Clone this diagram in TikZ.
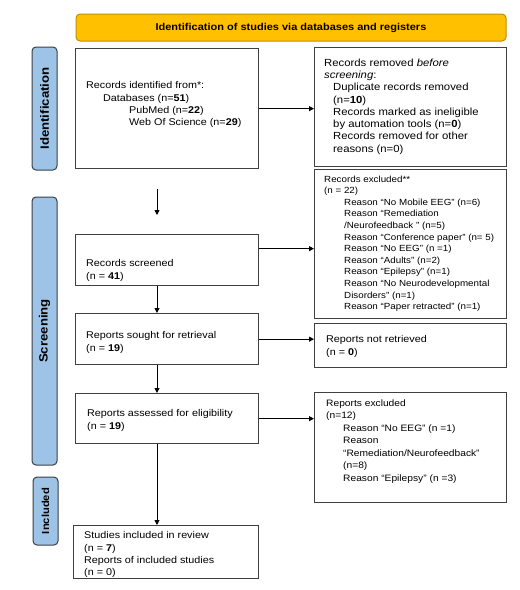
\documentclass[tikz,border=0pt]{standalone}
\usepackage{fontspec}
\setmainfont{Liberation Sans}[FakeStretch=1.1]
\usetikzlibrary{arrows.meta}
\definecolor{bannerfill}{HTML}{FFC000}
\definecolor{bannerdraw}{HTML}{BF9000}
\definecolor{sidefill}{HTML}{9DC3E6}
\definecolor{sidedraw}{HTML}{3A3F45}
\definecolor{boxdraw}{HTML}{404040}
\newcommand{\ind}[1]{\hspace*{#1pt}}
\begin{document}
\begin{tikzpicture}[x=1pt,y=-1pt,
  box/.style={draw=boxdraw, line width=1.3pt, anchor=north west, inner sep=0pt, fill=white},
  txt/.style={anchor=north west, inner sep=0pt, align=left, font=\fontsize{9.8}{12.3}\selectfont},
  txtsmall/.style={anchor=north west, inner sep=0pt, align=left, font=\fontsize{8.9}{11.6}\selectfont},
  side/.style={draw=sidedraw, line width=1pt, fill=sidefill, rounded corners=4pt, inner sep=0pt, font=\fontsize{12}{13}\selectfont\bfseries, rotate=90},
  banner/.style={draw=bannerdraw, line width=1pt, fill=bannerfill, rounded corners=4pt, inner sep=0pt, font=\fontsize{10}{11}\selectfont\bfseries},
  arr/.style={-{Triangle[length=5pt,width=5pt]}, line width=0.9pt, draw=black}]
\useasboundingbox (0,0) rectangle (520,590);
% banner
\node[banner, minimum width=430pt, minimum height=27pt] (ban) at (291,27.5) {Identification of studies via databases and registers};
% side labels
\node[side, minimum width=123pt, minimum height=25pt] (sid) at (44.5,108.5) {Identification};
\node[side, minimum width=268pt, minimum height=25pt] (sscr) at (44.5,331) {Screening};
\node[side, minimum width=68pt, minimum height=25pt, font=\fontsize{10.2}{11}\selectfont\bfseries] (sinc) at (45.5,511) {Included};
% boxes
\node[box, minimum width=183pt, minimum height=120pt] (ident) at (75,48) {};
\node[box, minimum width=192pt, minimum height=119pt] (rem) at (314,47) {};
\node[box, minimum width=192pt, minimum height=149pt] (excl) at (314,169) {};
\node[box, minimum width=192pt, minimum height=44pt] (notret) at (314,323) {};
\node[box, minimum width=192pt, minimum height=110pt] (repexcl) at (314,392) {};
\node[box, minimum width=183pt, minimum height=51pt] (screened) at (75,234) {};
\node[box, minimum width=183pt, minimum height=51pt] (sought) at (75,313) {};
\node[box, minimum width=183pt, minimum height=50pt] (assessed) at (75,393) {};
\node[box, minimum width=185pt, minimum height=53pt] (included) at (73,525) {};
% texts
\node[txt] (tident) at (86,81.5) {Records identified from*:\\
\ind{17}Databases (n=\textbf{51})\\
\ind{43}PubMed (n=\textbf{22})\\
\ind{43}Web Of Science (n=\textbf{29})};
\node[txt, font=\fontsize{10.3}{12.3}\selectfont] (trem) at (324,58.5) {Records removed \textit{before}\\
\textit{screening}:\\
\ind{9}Duplicate records removed\\
\ind{9}(n=\textbf{10})\\
\ind{9}Records marked as ineligible\\
\ind{9}by automation tools (n=\textbf{0})\\
\ind{9}Records removed for other\\
\ind{9}reasons (n=0)};
\node[txtsmall] (texcl) at (324,175.5) {Records excluded**\\
(n = 22)\\
\ind{20}Reason “No Mobile EEG” (n=6)\\
\ind{20}Reason “Remediation\\
\ind{20}/Neurofeedback ” (n=5)\\
\ind{20}Reason “Conference paper” (n= 5)\\
\ind{20}Reason “No EEG” (n =1)\\
\ind{20}Reason “Adults” (n=2)\\
\ind{20}Reason “Epilepsy” (n=1)\\
\ind{20}Reason “No Neurodevelopmental\\
\ind{20}Disorders” (n=1)\\
\ind{20}Reason “Paper retracted” (n=1)};
\node[txt] (tnotret) at (326,335.5) {Reports not retrieved\\(n = \textbf{0})};
\node[txt, font=\fontsize{9.3}{12.5}\selectfont] (trepexcl) at (326,399.5) {Reports excluded\\
(n=12)\\
\ind{17}Reason “No EEG” (n =1)\\
\ind{17}Reason\\
\ind{17}“Remediation/Neurofeedback”\\
\ind{17}(n=8)\\
\ind{17}Reason “Epilepsy” (n =3)};
\node[txt] (tscr) at (86,259.5) {Records screened\\(n = \textbf{41})};
\node[txt] (tsou) at (86,331.5) {Reports sought for retrieval\\(n = \textbf{19})};
\node[txt] (tass) at (87,409.5) {Reports assessed for eligibility\\(n = \textbf{19})};
\node[txt] (tinc) at (84,531.5) {Studies included in review\\(n = \textbf{7})\\Reports of included studies\\(n = 0)};
% connectors
\coordinate (a1) at (157,189);
\coordinate (a2) at (157,215);
\draw[arr] (a1) -- (a2);
\draw[arr] (ident.east) -- (ident.east -| rem.west);
\draw[arr] ([yshift=11.5pt]screened.east) -- ([yshift=11.5pt]screened.east -| excl.west);
\draw[arr] (sought.east) -- (sought.east -| notret.west);
\draw[arr] (assessed.east) -- (assessed.east -| repexcl.west);
\draw[arr] (screened.south -| a1) -- (sought.north -| a1);
\draw[arr] (sought.south -| a1) -- (assessed.north -| a1);
\draw[arr] (assessed.south -| a1) -- (included.north -| a1);
\end{tikzpicture}
\end{document}
